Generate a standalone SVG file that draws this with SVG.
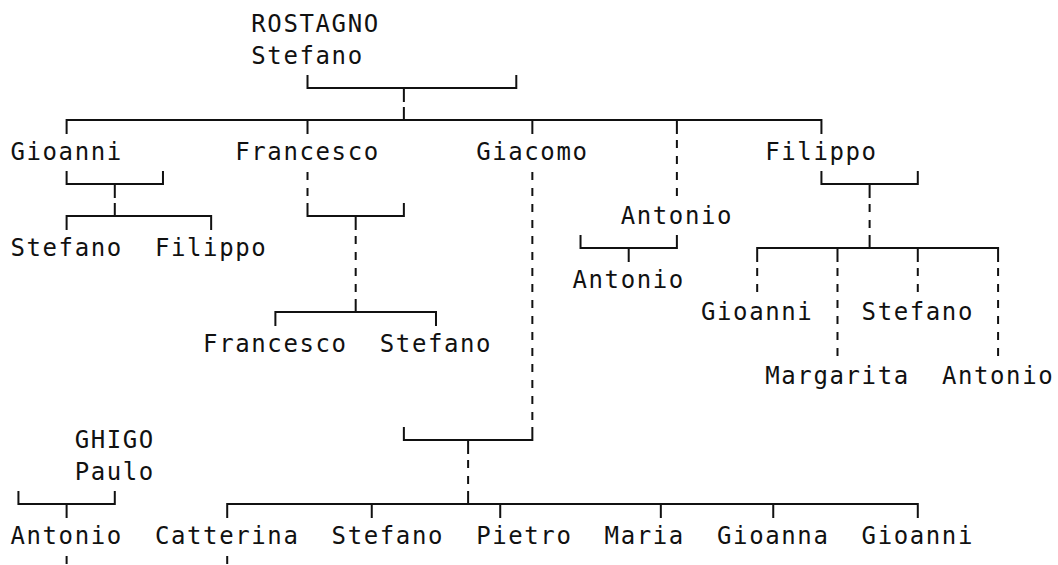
<svg xmlns="http://www.w3.org/2000/svg" width="1058" height="565" viewBox="0 0 1058 565">
<style>
.t{font-family:"DejaVu Sans Mono","Liberation Mono",monospace;font-size:24px;letter-spacing:1.61px;fill:#111}
.l{fill:none;stroke:#111;stroke-width:2}
.d{fill:none;stroke:#111;stroke-width:2;stroke-dasharray:8 8}
</style>
<rect width="1058" height="565" fill="#fff"/>
<g id="connectors">
<!-- ROSTAGNO Stefano -->
<path class="l" d="M307.51 75V88H516.29V75M403.87 88V102M403.87 107V120"/>
<path class="l" d="M66.61 134V120H821.43V134M307.51 120V134M532.35 120V134M676.89 120V134"/>
<!-- Gioanni -->
<path class="l" d="M66.61 171V184H162.97V171M114.79 184V198M114.79 203V216M66.61 230V216H211.15V230"/>
<!-- Francesco -->
<path class="d" d="M307.51 172V196"/>
<path class="l" d="M307.51 203V216H403.87V203M355.69 216V230"/>
<path class="d" d="M355.69 236V292"/>
<path class="l" d="M355.69 299V312M275.39 326V312H435.99V326"/>
<!-- Giacomo -->
<path class="d" d="M532.35 172V420"/>
<path class="l" d="M403.87 427V440H532.35V427M468.11 440V454"/>
<path class="d" d="M468.11 460V484"/>
<path class="l" d="M468.11 491V504M227.21 518V504H917.79V518M371.75 504V518M500.23 504V518M660.83 504V518M773.25 504V518"/>
<path class="d" d="M227.21 556V580"/>
<!-- Antonio -->
<path class="d" d="M676.89 140V196"/>
<path class="l" d="M580.53 235V248H676.89V235M628.71 248V262"/>
<!-- Filippo -->
<path class="l" d="M821.43 171V184H917.79V171M869.61 184V198"/>
<path class="d" d="M869.61 204V228"/>
<path class="l" d="M869.61 235V248M757.19 262V248H998.09V262M837.49 248V262M917.79 248V262"/>
<path class="d" d="M757.19 268V292M837.49 268V356M917.79 268V292M998.09 268V356"/>
<!-- GHIGO Paulo -->
<path class="l" d="M18.43 491V504H114.79V491M66.61 504V518"/>
<path class="d" d="M66.61 556V580"/>
</g>
<g id="n-rostagno-stefano"><text class="t" x="251.3" y="31.5">ROSTAGNO</text><text class="t" x="251.3" y="63.5">Stefano</text></g>
<g id="n-gioanni"><text class="t" x="10.4" y="159.5">Gioanni</text></g>
<g id="n-francesco"><text class="t" x="235.24" y="159.5">Francesco</text></g>
<g id="n-giacomo"><text class="t" x="476.14" y="159.5">Giacomo</text></g>
<g id="n-filippo"><text class="t" x="765.22" y="159.5">Filippo</text></g>
<g id="n-antonio"><text class="t" x="620.68" y="223.5">Antonio</text></g>
<g id="n-gioanni-stefano"><text class="t" x="10.4" y="255.5">Stefano</text></g>
<g id="n-gioanni-filippo"><text class="t" x="154.94" y="255.5">Filippo</text></g>
<g id="n-antonio-antonio"><text class="t" x="572.5" y="287.5">Antonio</text></g>
<g id="n-filippo-gioanni"><text class="t" x="700.98" y="319.5">Gioanni</text></g>
<g id="n-filippo-stefano"><text class="t" x="861.58" y="319.5">Stefano</text></g>
<g id="n-francesco-francesco"><text class="t" x="203.12" y="351.5">Francesco</text></g>
<g id="n-francesco-stefano"><text class="t" x="379.78" y="351.5">Stefano</text></g>
<g id="n-filippo-margarita"><text class="t" x="765.22" y="383.5">Margarita</text></g>
<g id="n-filippo-antonio"><text class="t" x="941.88" y="383.5">Antonio</text></g>
<g id="n-ghigo-paulo"><text class="t" x="74.64" y="447.5">GHIGO</text><text class="t" x="74.64" y="479.5">Paulo</text></g>
<g id="n-ghigo-antonio"><text class="t" x="10.4" y="543.5">Antonio</text></g>
<g id="n-catterina"><text class="t" x="154.94" y="543.5">Catterina</text></g>
<g id="n-giacomo-stefano"><text class="t" x="331.6" y="543.5">Stefano</text></g>
<g id="n-pietro"><text class="t" x="476.14" y="543.5">Pietro</text></g>
<g id="n-maria"><text class="t" x="604.62" y="543.5">Maria</text></g>
<g id="n-gioanna"><text class="t" x="717.04" y="543.5">Gioanna</text></g>
<g id="n-giacomo-gioanni"><text class="t" x="861.58" y="543.5">Gioanni</text></g>
</svg>
